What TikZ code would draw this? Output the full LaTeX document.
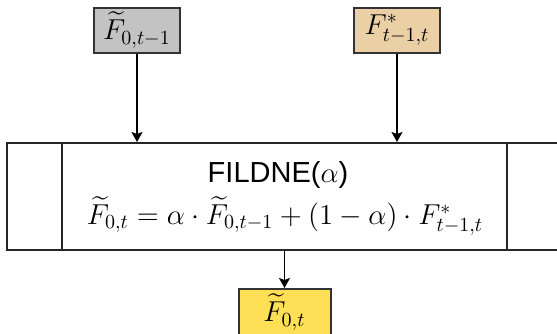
\documentclass[tikz,border=0pt]{standalone}
\usepackage{amsmath}
\usepackage{fontspec}
\newfontfamily\helv{Liberation Sans}
\usetikzlibrary{arrows.meta, positioning}
\definecolor{prevgray}{HTML}{C3C3C3}
\definecolor{currtan}{HTML}{EBD0A6}
\definecolor{outyellow}{HTML}{FFDF55}

\begin{document}
\begin{tikzpicture}[
            x=0.5pt, y=-0.5pt,
            line width=0.8pt,
            >={Stealth[length=5pt,width=5.5pt,inset=1pt]}
        ]

        \tikzstyle{signal}=[
            draw=black!80,
            line width=1pt,
            minimum width=43pt,
            minimum height=22.5pt,
            inner sep=1pt,
            font=\fontsize{14.5}{17}\selectfont
        ]
        \tikzstyle{process}=[
            draw=black!85,
            line width=1pt,
            minimum width=277.5pt,
            minimum height=53.5pt,
            align=center
        ]

        \useasboundingbox (0,0) rectangle (557,333);

        % filter block
        \node[process] (fildne) at (284.5,196.5) {};
        \draw[line width=1pt, draw=black!85]
            ([xshift=28pt]fildne.north west) -- ([xshift=28pt]fildne.south west)
            ([xshift=-28pt]fildne.north east) -- ([xshift=-28pt]fildne.south east);
        \node (name) at (278,175) {\helv\fontsize{14.5}{17}\selectfont FILDNE($\alpha$)};
        \node (rule) at (285,216) {\fontsize{14}{17}\selectfont
            $\widetilde{F}_{0,t} = \alpha \cdot \widetilde{F}_{0,t-1} + (1-\alpha) \cdot F^{*}_{t-1,t}$};

        % inputs and output
        \node[signal, fill=prevgray] (prev) at (137,30) {$\widetilde{F}_{0,t-1}$};
        \node[signal, fill=currtan] (curr) at (397,30) {$F^{*}_{t-1,t}$};
        \node[signal, fill=outyellow, minimum width=46pt, minimum height=23pt]
            (out) [below=18.5pt of fildne.south] {$\widetilde{F}_{0,t}$};

        \draw[->] (prev) -- (prev |- fildne.north);
        \draw[->] (curr) -- (curr |- fildne.north);
        \draw[->] (fildne.south) -- (out);

    \end{tikzpicture}
\end{document}
